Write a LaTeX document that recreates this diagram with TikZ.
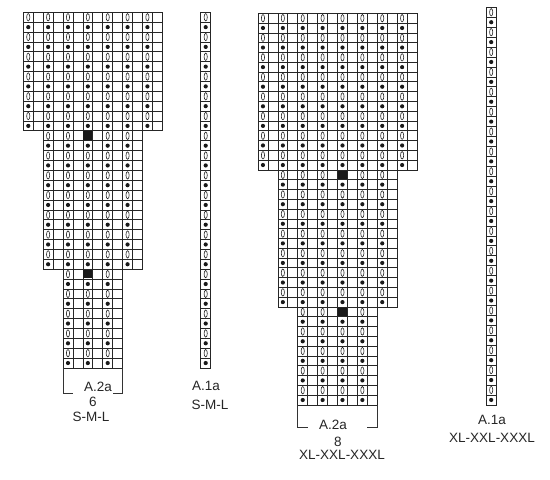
\documentclass[tikz,border=0pt]{standalone}
\usepackage{fontspec}
\setmainfont{Liberation Sans}
\tikzset{
  gridline/.style={draw=black!85, line width=0.75pt},
  ovalsym/.style={draw=black!85, line width=0.6pt},
  dotsym/.style={fill=black!90},
  lbl/.style={font=\fontsize{13.5}{15}\selectfont, text=black!85, inner sep=0pt},
  bracket/.style={draw=black!80, line width=0.7pt}
}
% #1 x0, #2 y0, #3 w, #4 h, #5 c0, #6 c1, #7 r0, #8 r1
\newcommand{\kblock}[8]{%
  \foreach \r in {#7,...,#8}{%
    \foreach \c in {#5,...,#6}{%
      \draw[gridline] ({#1+\c*#3},{#2+\r*#4}) rectangle ++(#3,#4);
      \ifodd\c\relax\else
        \ifodd\r\relax
          \fill[dotsym] ({#1+(\c+0.5)*#3},{#2+(\r+0.5)*#4}) circle (2.1);
        \else
          \draw[ovalsym] ({#1+(\c+0.5)*#3},{#2+(\r+0.5)*#4}) ellipse (1.6 and 3.7);
        \fi
      \fi
    }%
  }%
}
% #1 x0, #2 y0, #3 w, #4 h, #5 c, #6 r
\newcommand{\kblack}[6]{%
  \fill[black!90] ({#1+#5*#3+0.6},{#2+#6*#4+0.6}) rectangle ++({#3-1.2},{#4-1.2});
}
\begin{document}
\begin{tikzpicture}[x=1pt,y=-1pt]
\useasboundingbox (0,0) rectangle (550,480);
\fill[white] (0,0) rectangle (550,480);
% ---- left chart A.2a S-M-L
\kblock{23.3}{12.3}{9.93}{9.88}{0}{13}{0}{11}
\kblock{23.3}{12.3}{9.93}{9.88}{2}{11}{12}{25}
\kblock{23.3}{12.3}{9.93}{9.88}{4}{9}{26}{35}
\kblack{23.3}{12.3}{9.93}{9.88}{6}{12}
\kblack{23.3}{12.3}{9.93}{9.88}{6}{26}
\coordinate (lbl) at (63.0,368);
\coordinate (lbr) at (122.6,368);
\draw[bracket] (lbl) -- ++(0,25) -- ++(10,0);
\draw[bracket] (lbr) -- ++(0,25) -- ++(-10,0);
\node[lbl] (la2) at (98,386.5) {A.2a};
\node[lbl] (l6) at (93,402) {6};
\node[lbl] (lsml) at (91,417) {S-M-L};
% ---- left A.1a
\kblock{200.7}{12.3}{10}{9.88}{0}{0}{0}{35}
\node[lbl] (la1) at (206,386) {A.1a};
\node[lbl] (la1s) at (210,405) {S-M-L};
% ---- right chart A.2a XL-XXL-XXXL
\kblock{258}{13.3}{9.94}{9.79}{0}{15}{0}{15}
\kblock{258}{13.3}{9.94}{9.79}{2}{13}{16}{29}
\kblock{258}{13.3}{9.94}{9.79}{4}{11}{30}{39}
\kblack{258}{13.3}{9.94}{9.79}{8}{16}
\kblack{258}{13.3}{9.94}{9.79}{8}{30}
\coordinate (rbl) at (297.8,405);
\coordinate (rbr) at (377.3,405);
\draw[bracket] (rbl) -- ++(0,22) -- ++(10,0);
\draw[bracket] (rbr) -- ++(0,22) -- ++(-10,0);
\node[lbl] (ra2) at (333,425) {A.2a};
\node[lbl] (r8) at (338,442) {8};
\node[lbl] (rx) at (342,455) {XL-XXL-XXXL};
% ---- right A.1a
\kblock{486}{7.3}{10.4}{9.94}{0}{0}{0}{39}
\node[lbl] (ra1) at (492,420) {A.1a};
\node[lbl] (ra1s) at (492,438) {XL-XXL-XXXL};
\end{tikzpicture}
\end{document}
